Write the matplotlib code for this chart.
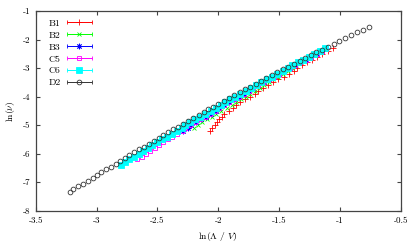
import numpy as np
import matplotlib
matplotlib.use('Agg')
import matplotlib.pyplot as plt
from matplotlib.legend_handler import HandlerErrorbar
from matplotlib.container import ErrorbarContainer

# data: x = ln(Lambda/V), y = ln(nu)
B1_x = [-2.07, -2.05, -2.03, -2.01, -1.99, -1.97, -1.95, -1.91, -1.88, -1.85,
        -1.82, -1.78, -1.74, -1.70, -1.67, -1.63, -1.59, -1.55, -1.51, -1.46,
        -1.42, -1.38, -1.35, -1.31, -1.27, -1.23, -1.19, -1.15, -1.10, -1.06]
B1_y = [-5.2, -5.1, -5.0, -4.9, -4.8, -4.7, -4.6, -4.5, -4.4, -4.3,
        -4.2, -4.1, -4.0, -3.9, -3.8, -3.7, -3.6, -3.5, -3.4, -3.3,
        -3.2, -3.1, -3.0, -2.9, -2.8, -2.7, -2.6, -2.5, -2.4, -2.3]

B2_x = [-2.20, -2.17, -2.13, -2.09, -2.05, -2.02, -1.98, -1.93, -1.89, -1.85,
        -1.81, -1.77, -1.74, -1.70, -1.66, -1.62, -1.58, -1.55, -1.51, -1.47,
        -1.43, -1.39, -1.36, -1.32, -1.28, -1.24, -1.20, -1.16, -1.12]
B2_y = [-5.1, -5.0, -4.9, -4.8, -4.7, -4.6, -4.5, -4.4, -4.3, -4.2,
        -4.1, -4.0, -3.9, -3.8, -3.7, -3.6, -3.5, -3.4, -3.3, -3.2,
        -3.1, -3.0, -2.9, -2.8, -2.7, -2.6, -2.5, -2.4, -2.3]

B3_x = [-2.29, -2.25, -2.22, -2.18, -2.14, -2.10, -2.06, -2.02, -1.99, -1.95,
        -1.91, -1.87, -1.83, -1.79, -1.75, -1.71, -1.67, -1.62, -1.58, -1.54,
        -1.50, -1.46, -1.41, -1.37, -1.33, -1.28, -1.24, -1.19, -1.15, -1.11]
B3_y = [-5.2, -5.1, -5.0, -4.9, -4.8, -4.7, -4.6, -4.5, -4.4, -4.3,
        -4.2, -4.1, -4.0, -3.9, -3.8, -3.7, -3.6, -3.5, -3.4, -3.3,
        -3.2, -3.1, -3.0, -2.9, -2.8, -2.7, -2.6, -2.5, -2.4, -2.3]

C5_x = [-2.67, -2.63, -2.59, -2.56, -2.52, -2.49, -2.45, -2.41, -2.38, -2.34,
        -2.30, -2.27, -2.23, -2.19, -2.15, -2.11, -2.07, -2.03, -1.99, -1.95,
        -1.91, -1.87, -1.83, -1.79, -1.75, -1.71, -1.67, -1.63, -1.58, -1.54,
        -1.50, -1.46, -1.41, -1.37, -1.33, -1.28, -1.24, -1.19, -1.15, -1.11]
C5_y = [-6.2, -6.1, -6.0, -5.9, -5.8, -5.7, -5.6, -5.5, -5.4, -5.3,
        -5.2, -5.1, -5.0, -4.9, -4.8, -4.7, -4.6, -4.5, -4.4, -4.3,
        -4.2, -4.1, -4.0, -3.9, -3.8, -3.7, -3.6, -3.5, -3.4, -3.3,
        -3.2, -3.1, -3.0, -2.9, -2.8, -2.7, -2.6, -2.5, -2.4, -2.3]

C6_x = [-2.80, -2.77, -2.73, -2.69, -2.65, -2.62, -2.58, -2.54, -2.50, -2.46,
        -2.42, -2.38, -2.34, -2.30, -2.27, -2.23, -2.19, -2.15, -2.11, -2.06,
        -2.02, -1.98, -1.94, -1.90, -1.86, -1.82, -1.77, -1.73, -1.69, -1.65,
        -1.60, -1.56, -1.52, -1.47, -1.43, -1.39, -1.34, -1.30, -1.25, -1.21,
        -1.16, -1.12]
C6_y = [-6.4, -6.3, -6.2, -6.1, -6.0, -5.9, -5.8, -5.7, -5.6, -5.5,
        -5.4, -5.3, -5.2, -5.1, -5.0, -4.9, -4.8, -4.7, -4.6, -4.5,
        -4.4, -4.3, -4.2, -4.1, -4.0, -3.9, -3.8, -3.7, -3.6, -3.5,
        -3.4, -3.3, -3.2, -3.1, -3.0, -2.9, -2.8, -2.7, -2.6, -2.5,
        -2.4, -2.3]

D2_x = [-3.22, -3.19, -3.15, -3.11, -3.07, -3.03, -3.00, -2.96, -2.92, -2.88,
        -2.84, -2.81, -2.77, -2.73, -2.69, -2.65, -2.61, -2.57, -2.53, -2.49,
        -2.45, -2.41, -2.37, -2.33, -2.29, -2.25, -2.21, -2.16, -2.12, -2.08,
        -2.04, -2.00, -1.95, -1.91, -1.87, -1.82, -1.78, -1.74, -1.69, -1.65,
        -1.61, -1.56, -1.52, -1.47, -1.43, -1.38, -1.33, -1.29, -1.24, -1.20,
        -1.15, -1.10, -1.05, -1.01, -0.96, -0.91, -0.86, -0.81, -0.76]
D2_y = [-7.35, -7.25, -7.15, -7.05, -6.95, -6.85, -6.75, -6.65, -6.55, -6.45,
        -6.35, -6.25, -6.15, -6.05, -5.95, -5.85, -5.75, -5.65, -5.55, -5.45,
        -5.35, -5.25, -5.15, -5.05, -4.95, -4.85, -4.75, -4.65, -4.55, -4.45,
        -4.35, -4.25, -4.15, -4.05, -3.95, -3.85, -3.75, -3.65, -3.55, -3.45,
        -3.35, -3.25, -3.15, -3.05, -2.95, -2.85, -2.75, -2.65, -2.55, -2.45,
        -2.35, -2.25, -2.15, -2.05, -1.95, -1.85, -1.75, -1.65, -1.55]

labels = ['B1', 'B2', 'B3', 'C5', 'C6', 'D2']
series = [(B1_x, B1_y), (B2_x, B2_y), (B3_x, B3_y), (C5_x, C5_y), (C6_x, C6_y), (D2_x, D2_y)]

plt.rcParams['font.family'] = ['cmr10']
plt.rcParams['mathtext.fontset'] = 'cm'
plt.rcParams['axes.unicode_minus'] = False
plt.rcParams['axes.formatter.use_mathtext'] = True

fig = plt.figure(figsize=(4.15, 2.5), dpi=100)
ax = fig.add_axes([0.086, 0.157, 0.8795, 0.799])

styles = [
    dict(marker='+', color='#ff0000', ms=4, mew=0.6),
    dict(marker='x', color='#00ff00', ms=3.5, mew=0.6),
    dict(marker=(8, 2, 0), color='#0000ff', ms=4, mew=0.6),
    dict(marker='s', color='#ff00ff', mfc='none', ms=3.5, mew=0.6),
    dict(marker='s', color='#00ffff', ms=4, mew=0.6),
    dict(marker='o', color='#333333', mfc='none', ms=3.4, mew=0.6),
]

handles = []
for (x, y), st, lab in zip(series, styles, labels):
    ax.plot(x, y, linestyle='none', **st)
    # proxy so the key shows the gnuplot-like errorbar sample
    h = ax.errorbar([np.nan], [np.nan], xerr=[1], linestyle='none', elinewidth=0.7,
                    capsize=1.6, capthick=0.7, label=lab, **st)
    handles.append(h)

ax.set_xlim(-3.5, -0.5)
ax.set_ylim(-8, -1)
ax.set_xticks([-3.5, -3, -2.5, -2, -1.5, -1, -0.5])
ax.set_xticklabels(['-3.5', '-3', '-2.5', '-2', '-1.5', '-1', '-0.5'])
ax.set_yticks([-8, -7, -6, -5, -4, -3, -2, -1])
ax.set_yticklabels(['-8', '-7', '-6', '-5', '-4', '-3', '-2', '-1'])
ax.tick_params(direction='in', top=True, right=True, length=3, width=0.8,
               labelsize=6.5, pad=4, color='#444444')
for sp in ax.spines.values():
    sp.set_color('#444444')
    sp.set_linewidth(0.9)
ax.set_xlabel(r'$\ln(\Lambda\ /\ V)$', fontsize=7)
ax.set_ylabel(r'$\ln(\nu)$', fontsize=7)

ax.legend(handles, labels, loc='upper left',
          bbox_to_anchor=(0.035, 0.96), frameon=False, markerfirst=False,
          handlelength=2.6, handletextpad=0.6, labelspacing=0.32, fontsize=7,
          borderaxespad=0, borderpad=0,
          handler_map={ErrorbarContainer: HandlerErrorbar(xerr_size=1.3, numpoints=1)})

fig.savefig('out.png')
